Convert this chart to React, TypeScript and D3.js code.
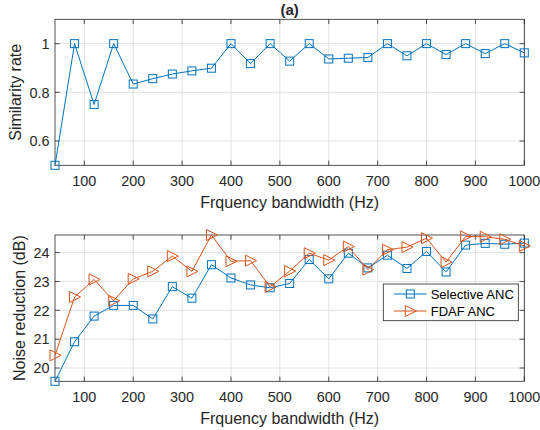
import React from "react";
import { scaleLinear, line, extent } from "d3";

const bandwidth = [40, 80, 120, 160, 200, 240, 280, 320, 360, 400, 440, 480, 520, 560, 600, 640, 680, 720, 760, 800, 840, 880, 920, 960, 1000];
const similarity = [0.5, 1.0, 0.75, 1.0, 0.834, 0.856, 0.875, 0.888, 0.899, 1.0, 0.918, 1.0, 0.928, 1.0, 0.937, 0.94, 0.943, 1.0, 0.95, 1.0, 0.955, 1.0, 0.959, 1.0, 0.962];
const selectiveAnc = [19.54, 20.91, 21.8, 22.17, 22.17, 21.7, 22.82, 22.42, 23.58, 23.12, 22.88, 22.78, 22.93, 23.76, 23.09, 23.98, 23.47, 23.91, 23.45, 24.04, 23.33, 24.26, 24.32, 24.29, 24.33];
const fdafAnc = [20.44, 22.46, 23.07, 22.33, 23.09, 23.35, 23.88, 23.35, 24.61, 23.7, 23.72, 22.81, 23.36, 23.98, 23.74, 24.21, 23.41, 24.1, 24.19, 24.5, 23.67, 24.56, 24.55, 24.46, 24.23];
const xTicks = [100, 200, 300, 400, 500, 600, 700, 800, 900, 1000];
const simTicks = [0.6, 0.8, 1];
const nrTicks = [20, 21, 22, 23, 24];

const BLUE = "#0072BD";
const ORANGE = "#D95319";
const AX = "#262626";
const GRID = "#e2e2e2";
const FONT = "'Liberation Sans', Arial, sans-serif";

const left = 55;
const right = 524.3;

const Square = ({ x, y }: { x: number; y: number }) => (
  <rect x={x - 4} y={y - 4} width={8} height={8} fill="none" stroke={BLUE} strokeWidth={1} />
);
const Tri = ({ x, y }: { x: number; y: number }) => (
  <path d={`M${x - 5},${y - 5.5}L${x + 6},${y}L${x - 5},${y + 5.5}Z`} fill="none" stroke={ORANGE} strokeWidth={1} />
);

function Panel(props: {
  top: number;
  bottom: number;
  yDomain: [number, number];
  yTicks: number[];
  yLabel: string;
  labelX: number;
  children: (x: any, y: any) => React.ReactNode;
}) {
  const { top, bottom, yDomain, yTicks, yLabel, labelX } = props;
  const x = scaleLinear().domain([40, 1000]).range([left, right]);
  const y = scaleLinear().domain(yDomain).range([bottom, top]);
  const tl = 4.7;
  return (
    <g fontFamily={FONT} fill={AX}>
      {xTicks.map((t) => (
        <line key={"gx" + t} x1={x(t)} x2={x(t)} y1={top} y2={bottom} stroke={GRID} />
      ))}
      {yTicks.map((t) => (
        <line key={"gy" + t} x1={left} x2={right} y1={y(t)} y2={y(t)} stroke={GRID} />
      ))}
      {xTicks.map((t) => (
        <g key={"tx" + t} stroke={AX} strokeWidth={0.8}>
          <line x1={x(t)} x2={x(t)} y1={bottom} y2={bottom - tl} />
          <line x1={x(t)} x2={x(t)} y1={top} y2={top + tl} />
        </g>
      ))}
      {yTicks.map((t) => (
        <g key={"ty" + t} stroke={AX} strokeWidth={0.8}>
          <line x1={left} x2={left + tl} y1={y(t)} y2={y(t)} />
          <line x1={right} x2={right - tl} y1={y(t)} y2={y(t)} />
        </g>
      ))}
      <rect x={left} y={top} width={right - left} height={bottom - top} fill="none" stroke={AX} strokeWidth={0.8} />
      {xTicks.map((t) => (
        <text key={"lx" + t} x={x(t)} y={bottom + 20.7} textAnchor="middle" fontSize={14.4}>
          {t}
        </text>
      ))}
      {yTicks.map((t) => (
        <text key={"ly" + t} x={left - 5.5} y={y(t) + 5.2} textAnchor="end" fontSize={14.4}>
          {t}
        </text>
      ))}
      <text x={(left + right) / 2} y={bottom + 42.5} textAnchor="middle" fontSize={16}>
        Frquency bandwidth (Hz)
      </text>
      <text transform={`translate(${labelX},${(top + bottom) / 2}) rotate(-90)`} textAnchor="middle" fontSize={16}>
        {yLabel}
      </text>
      {props.children(x, y)}
    </g>
  );
}

export default function App() {
  const nrExtent = extent([...selectiveAnc, ...fdafAnc]) as [number, number];
  return (
    <svg width={540} height={430} style={{ position: "absolute", left: 0, top: 0, background: "#fff" }}>
      <rect width={540} height={430} fill="#fff" />
      <text x={(left + right) / 2} y={14.5} textAnchor="middle" fontFamily={FONT} fontWeight="bold" fontSize={15} fill={AX}>
        (a)
      </text>
      <Panel top={19.3} bottom={165.3} yDomain={[0.5, 1.1]} yTicks={simTicks} yLabel="Similarity rate" labelX={21}>
        {(x, y) => {
          const path = line<number>().x((_, i) => x(bandwidth[i])).y((d) => y(d));
          return (
            <g>
              <path d={path(similarity) || ""} fill="none" stroke={BLUE} strokeWidth={1} />
              {similarity.map((d, i) => (
                <Square key={i} x={x(bandwidth[i])} y={y(d)} />
              ))}
            </g>
          );
        }}
      </Panel>
      <Panel top={235} bottom={381.3} yDomain={nrExtent} yTicks={nrTicks} yLabel="Noise reduction (dB)" labelX={24.5}>
        {(x, y) => {
          const path = line<number>().x((_, i) => x(bandwidth[i])).y((d) => y(d));
          return (
            <g>
              <path d={path(selectiveAnc) || ""} fill="none" stroke={BLUE} strokeWidth={1} />
              {selectiveAnc.map((d, i) => (
                <Square key={i} x={x(bandwidth[i])} y={y(d)} />
              ))}
              <path d={path(fdafAnc) || ""} fill="none" stroke={ORANGE} strokeWidth={1} />
              {fdafAnc.map((d, i) => (
                <Tri key={i} x={x(bandwidth[i])} y={y(d)} />
              ))}
              <g fontFamily={FONT} fontSize={13} fill="#000">
                <rect x={383.3} y={284} width={135} height={36.7} fill="#fff" stroke={AX} strokeWidth={0.8} />
                <line x1={394} x2={426.7} y1={294} y2={294} stroke={BLUE} />
                <Square x={410.3} y={294} />
                <text x={430.7} y={298.5}>Selective ANC</text>
                <line x1={394} x2={426.7} y1={311} y2={311} stroke={ORANGE} />
                <Tri x={410.3} y={311} />
                <text x={430.7} y={315.5}>FDAF ANC</text>
              </g>
            </g>
          );
        }}
      </Panel>
    </svg>
  );
}
